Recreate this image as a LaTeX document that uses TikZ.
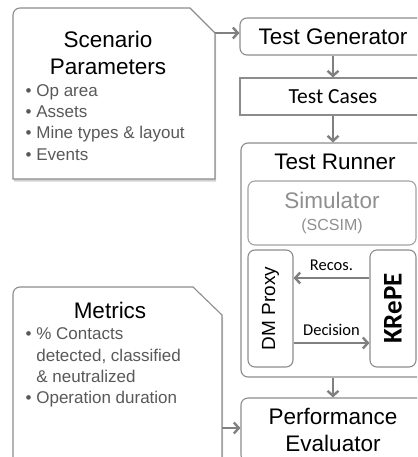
\documentclass[tikz,border=0pt]{standalone}
\usepackage{fontspec}
\setmainfont{Liberation Sans}
\newfontfamily\calfont{Carlito}
\usetikzlibrary{positioning,shadows,arrows.meta}

\definecolor{boxgray}{HTML}{8C8C8C}
\definecolor{flowgray}{HTML}{808080}
\definecolor{bulletgray}{HTML}{595959}
\definecolor{simgray}{HTML}{8F8F8F}

\tikzset{
  blk/.style={draw=boxgray, line width=1.1pt, fill=white, rounded corners=7pt, inner sep=0pt, align=center},
  docbox/.style={draw=boxgray, line width=1.1pt, fill=white, drop shadow={opacity=.35, shadow xshift=1pt, shadow yshift=-2.5pt}},
  ttl/.style={font=\fontsize{22.5}{27}\selectfont, align=center},
  bul/.style={font=\fontsize{17}{21.4}\selectfont, text=bulletgray, align=left, inner sep=0pt},
  flow/.style={draw=flowgray, line width=2.4pt, -{Straight Barb[length=5pt,width=11pt]}},
  cal/.style={font=\fontsize{16.5}{20}\calfont},
}

\begin{document}
\begin{tikzpicture}[x=1pt,y=-1pt]
  \useasboundingbox (0,0) rectangle (417,457);
  \clip (0,0) rectangle (417,457);

  % input documents
  \coordinate (scnc) at (215,33);
  \draw[docbox] (scnc) -- (215,179) -- (13,179) -- (13,15) arc[start angle=180, end angle=270, radius=7] -- (190,8) -- cycle;
  \node[ttl] (scn) at (108,53) {Scenario\\Parameters};
  \node[bul, anchor=north west] (scnlist) at (25.5,84) {• Op area\\• Assets\\• Mine types \& layout\\• Events};

  \coordinate (metc) at (222,315);
  \coordinate (meto) at (222,428);
  \draw[docbox] (metc) -- (222,470) -- (13,470) -- (13,294) arc[start angle=180, end angle=270, radius=7] -- (193,287) -- cycle;
  \node[ttl] (met) at (110,310) {Metrics};
  \node[bul, anchor=north west] (metlist) at (25.5,324.5) {%
    \begin{tabular}{@{}l@{\hspace{4.7pt}}l@{}}
      • & \% Contacts\\
        & detected, classified\\
        & \& neutralized\\
      • & Operation duration
    \end{tabular}};

  % pipeline
  \node[blk, ttl, minimum width=186, minimum height=37] (gen) at (333,36.5) {Test Generator};
  \node[blk, sharp corners, minimum width=186, minimum height=37, font=\fontsize{21.5}{24}\calfont] (cases) at (333,96.5) {Test Cases};
  \node[blk, minimum width=184, minimum height=234] (run) at (333,260) {};
  \node[ttl] (runtitle) at (335,162) {Test Runner};
  \node[blk, draw=boxgray!80, minimum width=168, minimum height=64, text=simgray, font=\fontsize{22.5}{22}\selectfont] (sim) at (332,213) {Simulator\\{\fontsize{16}{18}\selectfont (SCSIM)}};
  \node[blk, minimum width=45, minimum height=117, font=\fontsize{19}{22}\selectfont] (dm) at (270.5,308.5) {\rotatebox{90}{DM Proxy}};
  \node[blk, minimum width=46, minimum height=117, font=\fontsize{27}{30}\calfont\bfseries] (kre) at (393,308.5) {\rotatebox{90}{KRePE}};
  \node[blk, ttl, minimum width=184, minimum height=64] (perf) at (333,430) {Performance\\Evaluator};

  % connectors
  \draw[flow] (scnc) -- (scnc -| gen.west);
  \draw[flow] (gen) -- (cases);
  \draw[flow] (cases) -- (run);
  \draw[flow] ([yshift=30.5pt]kre.west) -- node[cal, above=3pt] (recos) {Recos.} ([yshift=30.5pt]dm.east);
  \draw[flow] ([yshift=-34.5pt]dm.east) -- node[cal, above=3pt] (dec) {Decision} ([yshift=-34.5pt]kre.west);
  \draw[flow] (run) -- (perf);
  \draw[flow] (meto) -- (meto -| perf.west);
\end{tikzpicture}
\end{document}
